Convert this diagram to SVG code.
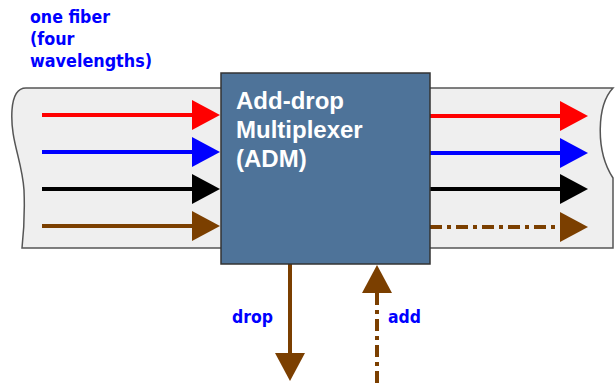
<svg xmlns="http://www.w3.org/2000/svg" width="616" height="383" viewBox="0 0 616 383">
<style>
.lbl{font-family:"DejaVu Sans","Open Sans",sans-serif;font-weight:700;fill:#0000ff;font-size:17.5px}
.adm{font-family:"Liberation Sans",Arial,sans-serif;font-weight:700;fill:#ffffff;font-size:24px}
.ln{fill:none;stroke-width:4}
</style>
<defs>
<marker id="hr" markerUnits="userSpaceOnUse" markerWidth="30" markerHeight="30" viewBox="0 0 28 30" refX="0" refY="15" orient="auto"><path d="M0 0L28 15L0 30Z" fill="#ff0000"/></marker>
<marker id="hb" markerUnits="userSpaceOnUse" markerWidth="30" markerHeight="30" viewBox="0 0 28 30" refX="0" refY="15" orient="auto"><path d="M0 0L28 15L0 30Z" fill="#0000ff"/></marker>
<marker id="hk" markerUnits="userSpaceOnUse" markerWidth="30" markerHeight="30" viewBox="0 0 28 30" refX="0" refY="15" orient="auto"><path d="M0 0L28 15L0 30Z" fill="#000000"/></marker>
<marker id="hn" markerUnits="userSpaceOnUse" markerWidth="30" markerHeight="30" viewBox="0 0 28 30" refX="0" refY="15" orient="auto"><path d="M0 0L28 15L0 30Z" fill="#7b3f00"/></marker>
</defs>
<rect width="616" height="383" fill="#ffffff"/>
<g id="fiber">
<path d="M26 88L613 88C597 105 595 150 613 178L613 248L22 248C24 230 25 215 24 190C22 160 10 140 12 110C13 96 18 88 26 88Z" fill="#efefef" stroke="#555555" stroke-width="1.5"/>
</g>
<g id="fiber-label">
<text class="lbl" x="30" y="23" textLength="80" lengthAdjust="spacingAndGlyphs">one fiber</text>
<text class="lbl" x="30" y="45" textLength="44.5" lengthAdjust="spacingAndGlyphs">(four</text>
<text class="lbl" x="30" y="67" textLength="122" lengthAdjust="spacingAndGlyphs">wavelengths)</text>
</g>
<g id="connectors">
<line class="ln" x1="42" y1="115" x2="192" y2="115" stroke="#ff0000" marker-end="url(#hr)"/>
<line class="ln" x1="42" y1="152" x2="192" y2="152" stroke="#0000ff" marker-end="url(#hb)"/>
<line class="ln" x1="42" y1="189" x2="192" y2="189" stroke="#000000" marker-end="url(#hk)"/>
<line class="ln" x1="42" y1="226" x2="192" y2="226" stroke="#7b3f00" marker-end="url(#hn)"/>
<line class="ln" x1="430" y1="116" x2="560" y2="116" stroke="#ff0000" marker-end="url(#hr)"/>
<line class="ln" x1="430" y1="153" x2="560" y2="153" stroke="#0000ff" marker-end="url(#hb)"/>
<line class="ln" x1="430" y1="189" x2="560" y2="189" stroke="#000000" marker-end="url(#hk)"/>
<line class="ln" x1="430" y1="227" x2="560" y2="227" stroke="#7b3f00" stroke-dasharray="12 5 4 5" marker-end="url(#hn)"/>
<line class="ln" x1="290" y1="264" x2="290" y2="353" stroke="#7b3f00" marker-end="url(#hn)"/>
<line class="ln" x1="377" y1="383" x2="377" y2="293" stroke="#7b3f00" stroke-dasharray="12 5 4 5" marker-end="url(#hn)"/>
</g>
<g id="adm">
<rect x="221" y="73" width="209" height="191" fill="#4e7399" stroke="#333333" stroke-width="1.5"/>
<text class="adm" x="236" y="109">Add-drop</text>
<text class="adm" x="236" y="138">Multiplexer</text>
<text class="adm" x="236" y="167">(ADM)</text>
</g>
<g id="labels">
<text class="lbl" x="232" y="323" textLength="41" lengthAdjust="spacingAndGlyphs">drop</text>
<text class="lbl" x="388" y="323" textLength="33" lengthAdjust="spacingAndGlyphs">add</text>
</g>
</svg>
